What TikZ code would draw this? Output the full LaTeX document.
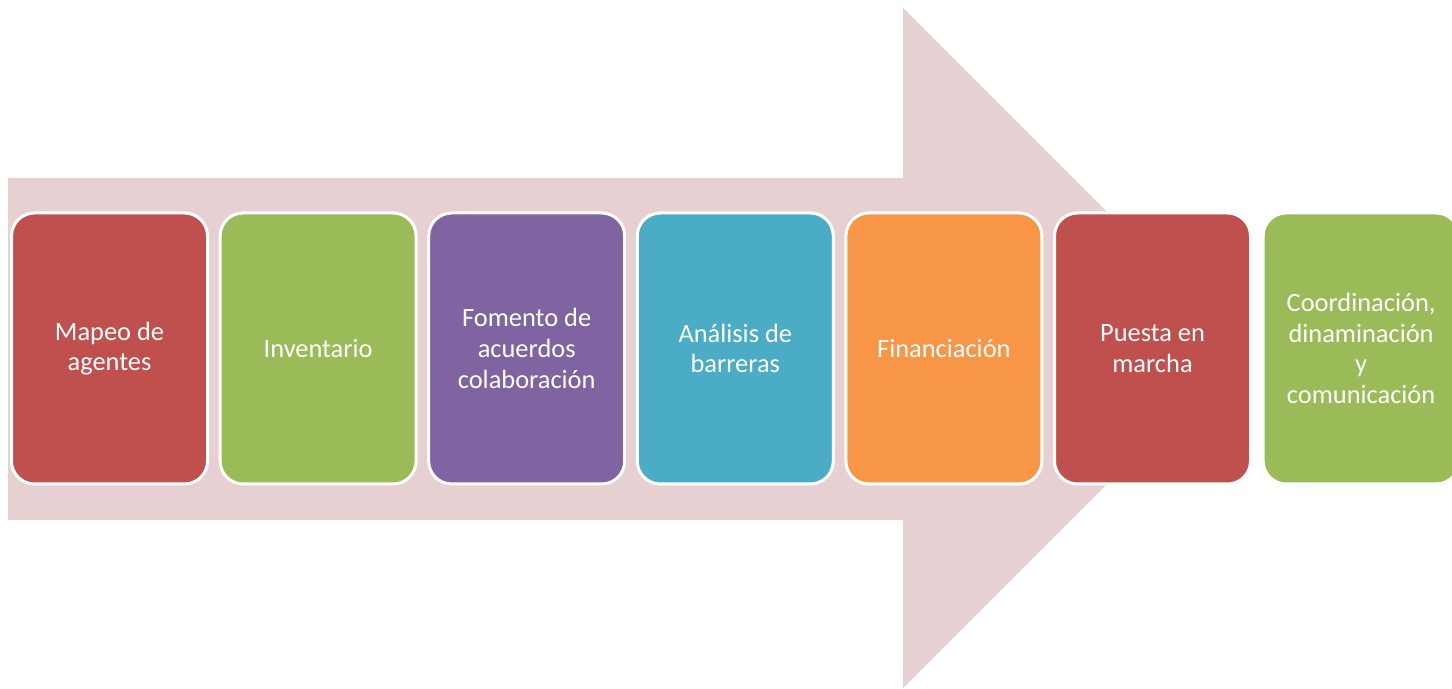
\documentclass[tikz,border=0pt]{standalone}
\usepackage{fontspec}
\setmainfont{Carlito}
\usepackage{tikz}
\usetikzlibrary{positioning}
\usepackage{xcolor}
\definecolor{procred}{RGB}{192, 80, 77}
\definecolor{procgreen}{RGB}{155, 187, 89}
\definecolor{procpurple}{RGB}{128, 100, 162}
\definecolor{procaqua}{RGB}{75, 172, 198}
\definecolor{procorange}{RGB}{247, 150, 70}
\definecolor{arrowpink}{RGB}{231, 208, 209}

\begin{document}
\begin{tikzpicture}[x=0.5pt, y=-0.5pt, node distance=6.3pt]
    \tikzstyle{stage} = [rectangle, rounded corners=11.5pt, minimum width=98pt, minimum height=135.5pt, inner sep=0pt, outer sep=0pt, align=center, text=white, draw=white, line width=1.5pt, font=\fontsize{13.2}{15.3}\selectfont]

    \clip (0,0) rectangle (1452,689);

    % big arrow behind the stages
    \fill [arrowpink] (8,178) -- (903,178) -- (903,8) -- (1243,348) -- (903,688) -- (903,520) -- (8,520) -- cycle;

    \node (mapeo) [stage, fill=procred] at (109.5,348.5) {Mapeo de\\agentes};
    \node (inventario) [stage, fill=procgreen, right=of mapeo] {Inventario};
    \node (fomento) [stage, fill=procpurple, right=of inventario] {Fomento de\\acuerdos\\colaboración};
    \node (analisis) [stage, fill=procaqua, right=of fomento] {Análisis de\\barreras};
    \node (financiacion) [stage, fill=procorange, right=of analisis] {Financiación};
    \node (puesta) [stage, fill=procred, right=of financiacion] {Puesta en\\marcha};
    \node (coordinacion) [stage, fill=procgreen, right=of puesta] {Coordinación,\\dinaminación\\y\\comunicación};
\end{tikzpicture}
\end{document}
